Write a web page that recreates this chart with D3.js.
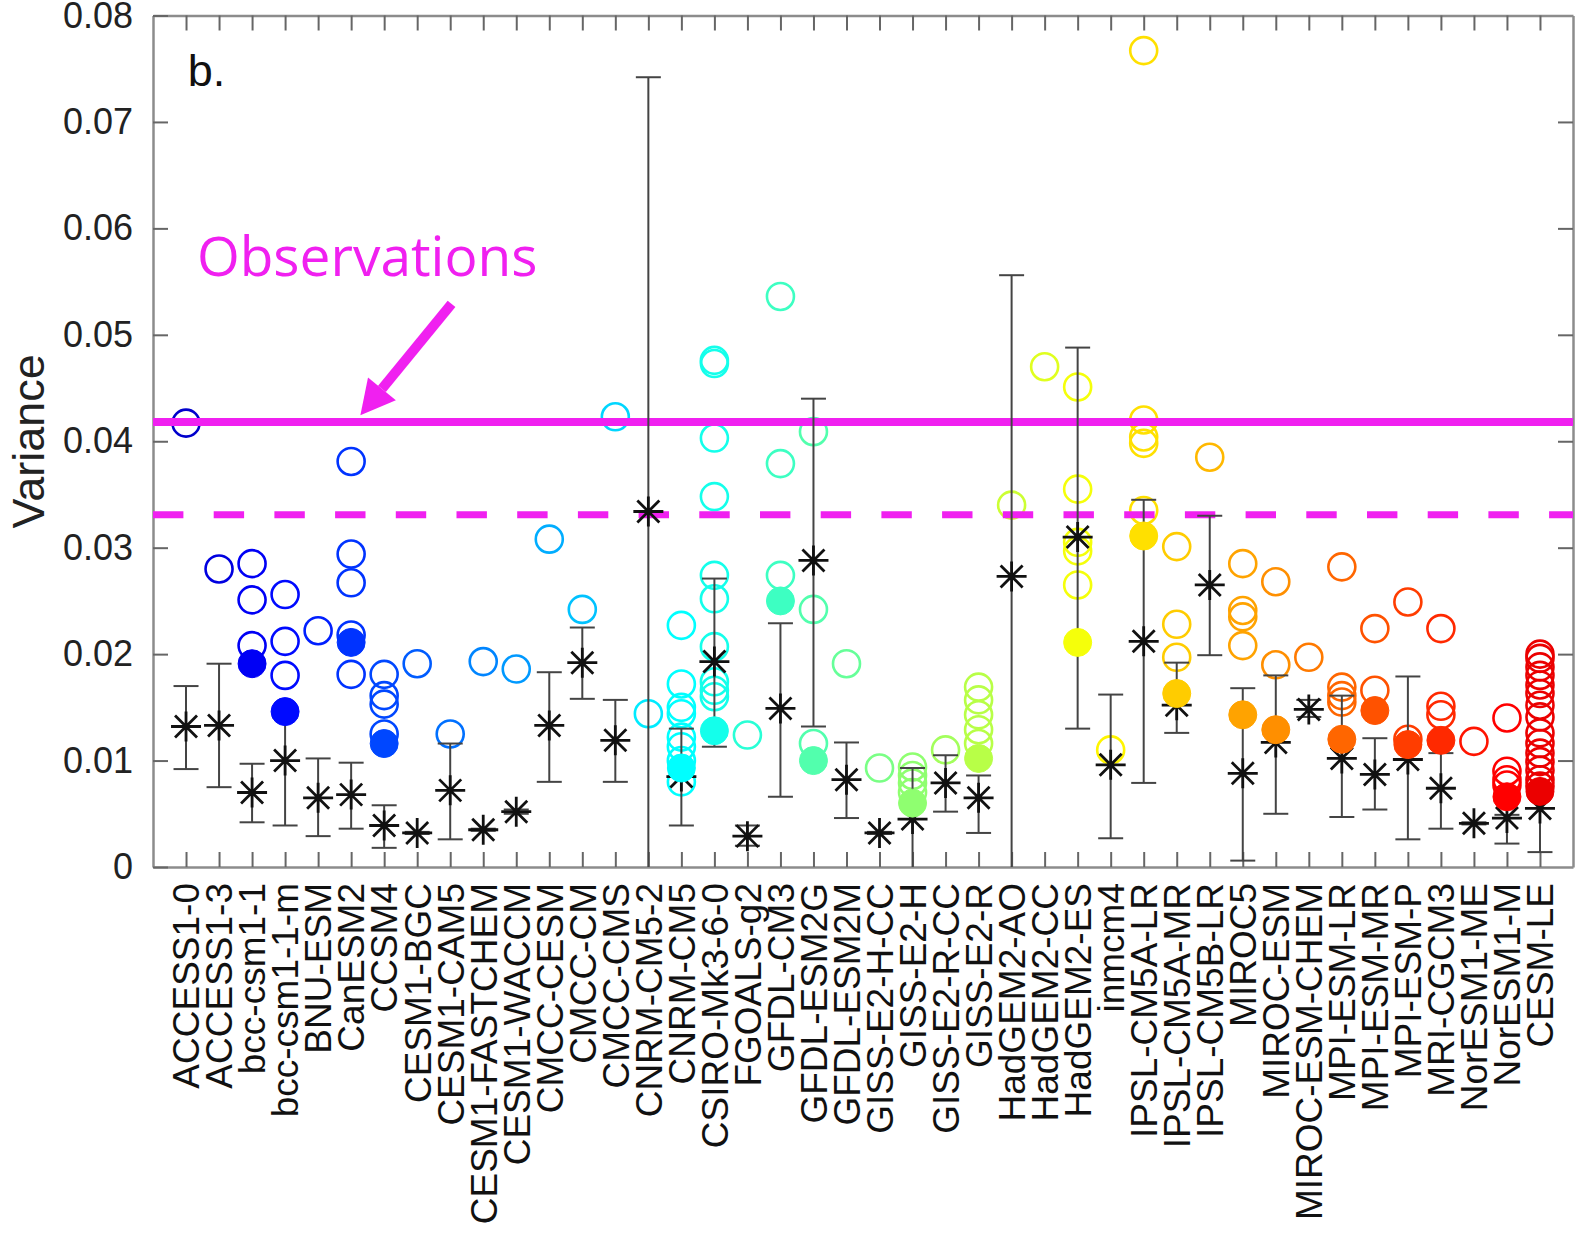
<!DOCTYPE html>
<html>
<head>
<meta charset="utf-8">
<script src="https://cdn.jsdelivr.net/npm/d3@7"></script>
<style>
  body { margin: 0; background: #fff; }
  svg { display: block; font-family: "Liberation Sans", Arial, Helvetica, sans-serif; }
</style>
</head>
<body>
<div id="chart"></div>
<script>
// Model names along the x axis
const models = [
  "ACCESS1-0", "ACCESS1-3", "bcc-csm1-1", "bcc-csm1-1-m", "BNU-ESM", "CanESM2", "CCSM4",
  "CESM1-BGC", "CESM1-CAM5", "CESM1-FASTCHEM", "CESM1-WACCM", "CMCC-CESM", "CMCC-CM", "CMCC-CMS",
  "CNRM-CM5-2", "CNRM-CM5", "CSIRO-Mk3-6-0", "FGOALS-g2", "GFDL-CM3", "GFDL-ESM2G", "GFDL-ESM2M",
  "GISS-E2-H-CC", "GISS-E2-H", "GISS-E2-R-CC", "GISS-E2-R", "HadGEM2-AO", "HadGEM2-CC", "HadGEM2-ES",
  "inmcm4", "IPSL-CM5A-LR", "IPSL-CM5A-MR", "IPSL-CM5B-LR", "MIROC5", "MIROC-ESM", "MIROC-ESM-CHEM",
  "MPI-ESM-LR", "MPI-ESM-MR", "MPI-ESM-P", "MRI-CGCM3", "NorESM1-ME", "NorESM1-M", "CESM-LE"
];

// Variance of each ensemble member (open circles)
const members = [
  [0.0417], [0.0280], [0.0285, 0.0251, 0.0208], [0.0256, 0.0212, 0.0180], [0.0222],
  [0.0381, 0.0294, 0.0267, 0.0218, 0.0181], [0.0181, 0.0161, 0.0153, 0.0125],
  [0.0191], [0.0125], [0.0193], [0.0186], [0.0308], [0.0242], [0.0423],
  [0.0144], [0.0227, 0.0172, 0.0150, 0.0144, 0.0122, 0.0113, 0.0100, 0.0080],
  [0.0476, 0.0473, 0.0403, 0.0348, 0.0274, 0.0252, 0.0207, 0.0174, 0.0166, 0.0160],
  [0.0124], [0.0536, 0.0379, 0.0274], [0.0409, 0.0242, 0.0116], [0.0191],
  [0.0093], [0.0094, 0.0086, 0.0079, 0.0070], [0.0110], [0.0169, 0.0157, 0.0143, 0.0129, 0.0116],
  [0.0340], [0.0470], [0.0451, 0.0355, 0.0305, 0.0297, 0.0265],
  [0.0110], [0.0767, 0.0420, 0.0404, 0.0398, 0.0335], [0.0301, 0.0228, 0.0197], [0.0385],
  [0.0285, 0.0241, 0.0235, 0.0208], [0.0268, 0.0190], [0.0197],
  [0.0282, 0.0169, 0.0161, 0.0155], [0.0224, 0.0166], [0.0249, 0.0120], [0.0224, 0.0151, 0.0143],
  [0.0118], [0.0140, 0.0090, 0.0082, 0.0077],
  [0.0200, 0.0196, 0.0188, 0.0180, 0.0171, 0.0163, 0.0152, 0.0141, 0.0126, 0.0116, 0.0107, 0.0099, 0.0091, 0.0082, 0.0076]
];

// Highlighted member (filled circle), null where none
const highlighted = [
  null, null, 0.0191, 0.0146, null, 0.0211, 0.0116, null, null, null, null, null, null, null,
  null, 0.0093, 0.0128, null, 0.0250, 0.0100, null, null, 0.0060, null, 0.0102, null, null, 0.0211,
  null, 0.0311, 0.0163, null, 0.0143, 0.0129, null, 0.0120, 0.0147, 0.0115, 0.0119, null, 0.0066, 0.0071
];

// Asterisk value with its error bar range, null where none
const starValue = [
  0.0132, 0.0133, 0.0070, 0.0100, 0.0065, 0.0068, 0.0039, 0.0032, 0.0072, 0.0035, 0.0052, 0.0133, 0.0192, 0.0119,
  0.0334, 0.0085, 0.0193, 0.0029, 0.0149, 0.0288, 0.0082, 0.0032, 0.0045, 0.0079, 0.0065, 0.0273, null, 0.0310,
  0.0096, 0.0212, 0.0152, 0.0265, 0.0088, 0.0117, 0.0148, 0.0102, 0.0087, 0.0101, 0.0074, 0.0041, 0.0046, 0.0055
];
const starLow = [
  0.0092, 0.0075, 0.0042, 0.0039, 0.0029, 0.0036, 0.0018, 0.0031, 0.0026, 0.0034, 0.0050, 0.0080, 0.0158, 0.0080,
  0.0000, 0.0039, 0.0113, 0.0020, 0.0066, 0.0132, 0.0046, 0.0031, 0.0000, 0.0052, 0.0032, 0.0000, null, 0.0130,
  0.0027, 0.0079, 0.0126, 0.0199, 0.0006, 0.0050, 0.0141, 0.0047, 0.0054, 0.0026, 0.0036, 0.0040, 0.0022, 0.0014
];
const starHigh = [
  0.0170, 0.0191, 0.0097, 0.0140, 0.0102, 0.0098, 0.0058, 0.0033, 0.0116, 0.0036, 0.0054, 0.0183, 0.0225, 0.0157,
  0.0742, 0.0130, 0.0271, 0.0039, 0.0229, 0.0440, 0.0117, 0.0033, 0.0093, 0.0105, 0.0086, 0.0556, null, 0.0488,
  0.0162, 0.0345, 0.0192, 0.0330, 0.0168, 0.0180, 0.0157, 0.0161, 0.0121, 0.0179, 0.0107, 0.0042, 0.0049, 0.0075
];

// Observed variance (solid) and second estimate (dashed)
const obsSolid = 0.0418;
const obsDashed = 0.0331;

const yTicks = [0, 0.01, 0.02, 0.03, 0.04, 0.05, 0.06, 0.07, 0.08];
const yTickLabels = ["0", "0.01", "0.02", "0.03", "0.04", "0.05", "0.06", "0.07", "0.08"];

const width = 1578, height = 1235;
const plotLeft = 153, plotRight = 1573, plotTop = 15.5, plotBottom = 867;
const magenta = "#f020f0";

const svg = d3.select("#chart")
  .append("svg")
  .attr("width", width)
  .attr("height", height);

const x = d3.scaleLinear().domain([0, models.length + 1]).range([plotLeft, plotRight]);
const y = d3.scaleLinear().domain([0, 0.08]).range([plotBottom, plotTop]);

// jet-like colour per model
function jet(t) {
  const c = v => Math.max(0, Math.min(1, v)) * 255;
  return d3.rgb(c(1.5 - Math.abs(4 * t - 3)), c(1.5 - Math.abs(4 * t - 2)), c(1.5 - Math.abs(4 * t - 1))).toString();
}
const color = i => jet(0.075 + 0.82 * i / (models.length - 1));

const idx = d3.range(models.length);

// Axes (box with inward ticks)
const axisStyle = g => {
  g.select(".domain").attr("stroke", "#8c8c8c").attr("stroke-width", 2.5);
  g.selectAll(".tick line").attr("stroke", "#666").attr("stroke-width", 2);
};
const xTickVals = idx.map(i => i + 1);

svg.append("g")
  .attr("transform", `translate(0,${plotBottom})`)
  .call(d3.axisBottom(x).tickValues(xTickVals).tickFormat("").tickSizeInner(-15).tickSizeOuter(0))
  .call(axisStyle);

svg.append("g")
  .attr("transform", `translate(0,${plotTop})`)
  .call(d3.axisTop(x).tickValues(xTickVals).tickFormat("").tickSizeInner(-15).tickSizeOuter(0))
  .call(axisStyle);

svg.append("g")
  .attr("transform", `translate(${plotLeft},0)`)
  .call(d3.axisLeft(y).tickValues(yTicks).tickFormat((d, i) => yTickLabels[i]).tickSizeInner(-15).tickSizeOuter(0).tickPadding(20))
  .call(axisStyle)
  .call(g => g.selectAll(".tick text")
    .attr("fill", "#222")
    .style("font-size", "36px")
    .style("font-family", "'Liberation Sans', Arial, sans-serif"));

svg.append("g")
  .attr("transform", `translate(${plotRight},0)`)
  .call(d3.axisRight(y).tickValues(yTicks.slice(1, -1)).tickFormat("").tickSizeInner(-15).tickSizeOuter(0))
  .call(axisStyle);

// Model labels, rotated
svg.append("g")
  .selectAll("text")
  .data(models)
  .enter()
  .append("text")
  .attr("transform", (d, i) => `translate(${x(i + 1)},${plotBottom + 16}) rotate(-90)`)
  .attr("dy", "0.36em")
  .attr("text-anchor", "end")
  .attr("fill", "#111")
  .style("font-size", "37px")
  .text(d => d);

// Y axis title
svg.append("text")
  .attr("transform", `translate(44,${(plotTop + plotBottom) / 2}) rotate(-90)`)
  .attr("text-anchor", "middle")
  .attr("fill", "#222")
  .style("font-size", "45px")
  .text("Variance");

// Open circles for ensemble members
const memberPts = idx.flatMap(i => members[i].map(v => ({ i, v })));
svg.append("g")
  .selectAll("circle")
  .data(memberPts)
  .enter()
  .append("circle")
  .attr("cx", d => x(d.i + 1))
  .attr("cy", d => y(d.v))
  .attr("r", 13.5)
  .attr("fill", "none")
  .attr("stroke", d => color(d.i))
  .attr("stroke-width", 2.6);

// Observation lines
svg.append("line")
  .attr("x1", plotLeft).attr("x2", plotRight)
  .attr("y1", y(obsSolid)).attr("y2", y(obsSolid))
  .attr("stroke", magenta)
  .attr("stroke-width", 8);

svg.append("line")
  .attr("x1", plotLeft).attr("x2", plotRight)
  .attr("y1", y(obsDashed)).attr("y2", y(obsDashed))
  .attr("stroke", magenta)
  .attr("stroke-width", 7)
  .attr("stroke-dasharray", "30.4,30.3");

// Error bars
const stars = idx.filter(i => starValue[i] !== null);
const bars = svg.append("g")
  .attr("stroke", "#444")
  .attr("stroke-width", 2)
  .selectAll("g")
  .data(stars)
  .enter()
  .append("g");

bars.append("line")
  .attr("x1", i => x(i + 1)).attr("x2", i => x(i + 1))
  .attr("y1", i => y(starLow[i])).attr("y2", i => y(starHigh[i]));
bars.append("line")
  .attr("x1", i => x(i + 1) - 12.5).attr("x2", i => x(i + 1) + 12.5)
  .attr("y1", i => y(starHigh[i])).attr("y2", i => y(starHigh[i]));
bars.filter(i => starLow[i] > 0)
  .append("line")
  .attr("x1", i => x(i + 1) - 12.5).attr("x2", i => x(i + 1) + 12.5)
  .attr("y1", i => y(starLow[i])).attr("y2", i => y(starLow[i]));

// Asterisks
const starPath = "M-15,0H15M0,-15V15M-11,-11L11,11M-11,11L11,-11";
svg.append("g")
  .selectAll("path")
  .data(stars)
  .enter()
  .append("path")
  .attr("transform", i => `translate(${x(i + 1)},${y(starValue[i])})`)
  .attr("d", starPath)
  .attr("fill", "none")
  .attr("stroke", "#111")
  .attr("stroke-width", 2.8);

// Filled circles
svg.append("g")
  .selectAll("circle")
  .data(idx.filter(i => highlighted[i] !== null))
  .enter()
  .append("circle")
  .attr("cx", i => x(i + 1))
  .attr("cy", i => y(highlighted[i]))
  .attr("r", 14)
  .attr("fill", i => color(i))
  .attr("stroke", i => color(i))
  .attr("stroke-width", 1);

// Panel letter
svg.append("text")
  .attr("x", x(1.05))
  .attr("y", y(0.0734))
  .attr("fill", "#111")
  .style("font-size", "45px")
  .text("b.");

// Observations annotation with arrow
svg.append("text")
  .attr("x", x(1.33))
  .attr("y", y(0.0555))
  .attr("fill", magenta)
  .style("font-family", "'Open Sans', 'Noto Sans', sans-serif")
  .style("font-size", "55px")
  .text("Observations");

const tail = [x(9.04), y(0.0529)], tip = [x(6.28), y(0.04245)];
const ang = Math.atan2(tip[1] - tail[1], tip[0] - tail[0]);
const headLen = 34, headHalf = 18;
const base = [tip[0] - headLen * Math.cos(ang), tip[1] - headLen * Math.sin(ang)];
const nx = -Math.sin(ang), ny = Math.cos(ang);

svg.append("line")
  .attr("x1", tail[0]).attr("y1", tail[1])
  .attr("x2", base[0]).attr("y2", base[1])
  .attr("stroke", magenta)
  .attr("stroke-width", 10);

svg.append("path")
  .attr("d", `M${tip[0]},${tip[1]}L${base[0] + nx * headHalf},${base[1] + ny * headHalf}L${base[0] - nx * headHalf},${base[1] - ny * headHalf}Z`)
  .attr("fill", magenta);
</script>
</body>
</html>
